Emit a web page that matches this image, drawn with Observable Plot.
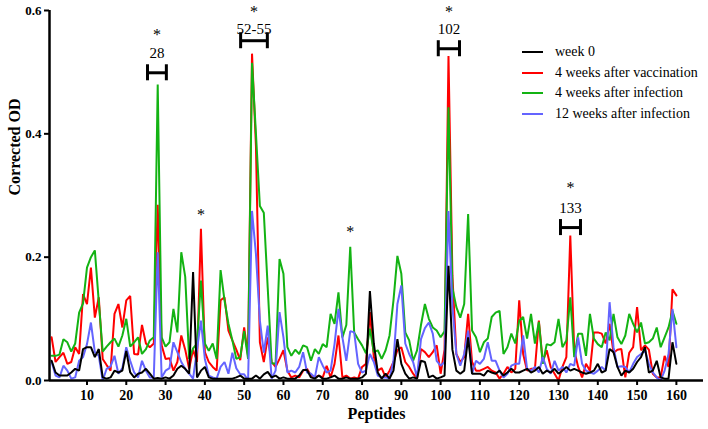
<!DOCTYPE html>
<html><head><meta charset="utf-8">
<script src="https://cdn.jsdelivr.net/npm/d3@7"></script>
<script src="https://cdn.jsdelivr.net/npm/@observablehq/plot@0.6"></script>
<style>
body{margin:0;background:#fff;}
#wrap{position:relative;width:708px;height:429px;}
#legend{position:absolute;left:522px;top:42px;font-family:"Liberation Serif","Times New Roman",serif;font-size:14px;color:#000;}
.row{display:flex;align-items:center;height:20.5px;white-space:nowrap;}
.sw{width:21px;height:2px;margin-right:12px;}
</style></head>
<body><div id="wrap"><div id="legend"></div></div>
<script>
const peptides = d3.range(1, 161);
const week0 = [0.032,0.013,0.008,0.008,0.008,0.013,0.019,0.016,0.051,0.054,
0.054,0.038,0.051,0.005,0.003,0.005,0.016,0.013,0.016,0.048,
0.013,0.005,0.011,0.013,0.019,0.011,0.003,0.004,0.003,0.005,
0.003,0.008,0.019,0.024,0.019,0.011,0.176,0.005,0.016,0.022,
0.005,0.003,0.003,0.003,0.003,0.003,0.003,0.005,0.008,0.003,
0.003,0.003,0.008,0.003,0.010,0.014,0.005,0.008,0.003,0.005,
0.003,0.003,0.003,0.008,0.017,0.017,0.005,0.003,0.008,0.003,
0.003,0.005,0.008,0.003,0.003,0.005,0.003,0.003,0.003,0.005,
0.011,0.145,0.060,0.013,0.003,0.011,0.003,0.016,0.067,0.027,
0.011,0.003,0.005,0.003,0.032,0.030,0.005,0.008,0.003,0.005,
0.008,0.186,0.050,0.016,0.011,0.016,0.070,0.011,0.011,0.011,
0.008,0.016,0.013,0.011,0.016,0.008,0.013,0.019,0.013,0.013,
0.016,0.019,0.013,0.016,0.022,0.011,0.016,0.013,0.019,0.011,
0.016,0.022,0.016,0.019,0.016,0.013,0.011,0.013,0.016,0.027,
0.013,0.016,0.051,0.046,0.022,0.008,0.016,0.013,0.019,0.030,
0.038,0.054,0.013,0.016,0.032,0.005,0.003,0.003,0.062,0.027];
const vacc4 = [0.070,0.030,0.038,0.045,0.027,0.030,0.054,0.043,0.140,0.124,
0.183,0.102,0.135,0.035,0.025,0.016,0.108,0.124,0.086,0.130,
0.137,0.043,0.042,0.090,0.060,0.054,0.060,0.285,0.057,0.035,
0.036,0.016,0.030,0.073,0.050,0.019,0.050,0.030,0.246,0.046,
0.030,0.022,0.016,0.130,0.135,0.081,0.065,0.050,0.033,0.086,
0.040,0.530,0.380,0.062,0.030,0.070,0.030,0.022,0.035,0.049,
0.016,0.005,0.008,0.005,0.016,0.019,0.008,0.005,0.008,0.005,
0.024,0.005,0.027,0.073,0.005,0.008,0.003,0.005,0.003,0.022,
0.027,0.111,0.038,0.016,0.020,0.005,0.016,0.030,0.049,0.054,
0.030,0.022,0.011,0.003,0.051,0.046,0.038,0.046,0.057,0.011,
0.050,0.526,0.170,0.043,0.030,0.038,0.108,0.030,0.016,0.016,
0.019,0.022,0.016,0.013,0.003,0.011,0.022,0.013,0.019,0.130,
0.043,0.016,0.019,0.019,0.097,0.030,0.049,0.022,0.011,0.000,
0.022,0.038,0.235,0.049,0.022,0.005,0.027,0.016,0.078,0.078,
0.076,0.060,0.092,0.045,0.050,0.051,0.005,0.045,0.054,0.119,
0.049,0.057,0.050,0.011,0.005,0.005,0.040,0.022,0.148,0.138];
const inf4 = [0.040,0.040,0.042,0.067,0.062,0.047,0.060,0.110,0.125,0.183,
0.200,0.211,0.128,0.047,0.055,0.062,0.068,0.055,0.073,0.100,
0.055,0.062,0.070,0.043,0.051,0.065,0.070,0.480,0.070,0.055,
0.062,0.116,0.078,0.208,0.168,0.035,0.052,0.060,0.162,0.060,
0.048,0.060,0.035,0.179,0.130,0.092,0.065,0.035,0.038,0.080,
0.035,0.515,0.400,0.283,0.272,0.150,0.028,0.027,0.197,0.173,
0.054,0.040,0.050,0.043,0.057,0.054,0.032,0.051,0.043,0.059,
0.054,0.108,0.092,0.143,0.070,0.090,0.217,0.078,0.067,0.057,
0.044,0.084,0.046,0.049,0.035,0.049,0.073,0.130,0.202,0.173,
0.078,0.065,0.032,0.049,0.090,0.124,0.100,0.086,0.081,0.070,
0.080,0.443,0.150,0.119,0.102,0.124,0.270,0.081,0.070,0.046,
0.062,0.068,0.103,0.110,0.113,0.043,0.054,0.076,0.060,0.097,
0.103,0.068,0.108,0.060,0.095,0.027,0.059,0.057,0.062,0.100,
0.054,0.065,0.135,0.038,0.076,0.076,0.040,0.108,0.068,0.059,
0.054,0.078,0.065,0.108,0.070,0.059,0.073,0.108,0.092,0.078,
0.094,0.060,0.062,0.068,0.086,0.054,0.070,0.086,0.113,0.092];
const inf12 = [0.030,0.008,0.005,0.024,0.016,0.003,0.005,0.032,0.038,0.059,
0.094,0.046,0.040,0.000,0.019,0.023,0.040,0.011,0.020,0.054,
0.032,0.013,0.005,0.032,0.016,0.005,0.005,0.208,0.005,0.016,
0.020,0.062,0.046,0.030,0.019,0.011,0.003,0.050,0.097,0.035,
0.008,0.005,0.003,0.022,0.030,0.011,0.045,0.020,0.010,0.010,
0.000,0.275,0.205,0.097,0.045,0.089,0.003,0.016,0.111,0.070,
0.013,0.016,0.013,0.022,0.046,0.013,0.011,0.005,0.038,0.024,
0.013,0.016,0.059,0.116,0.070,0.032,0.080,0.078,0.027,0.013,
0.016,0.043,0.030,0.008,0.005,0.005,0.003,0.032,0.124,0.154,
0.060,0.043,0.030,0.005,0.067,0.085,0.094,0.076,0.032,0.024,
0.030,0.275,0.120,0.043,0.024,0.043,0.081,0.011,0.032,0.027,
0.035,0.062,0.032,0.032,0.016,0.005,0.011,0.024,0.027,0.027,
0.073,0.019,0.016,0.022,0.013,0.038,0.019,0.011,0.032,0.016,
0.022,0.013,0.027,0.024,0.070,0.027,0.016,0.013,0.011,0.016,
0.022,0.016,0.127,0.054,0.022,0.023,0.022,0.013,0.027,0.038,
0.043,0.049,0.027,0.013,0.005,0.000,0.016,0.043,0.116,0.054];

const seriesNames = ["week 0", "4 weeks after vaccination", "4 weeks after infection", "12 weeks after infection"];
const seriesColors = ["#000000", "#ff0000", "#13b313", "#6464ff"];
const seriesValues = [week0, vacc4, inf4, inf12];
const drawOrder = [1, 2, 3, 0];
const xTicks = d3.range(10, 161, 10);
const yTicks = [0, 0.2, 0.4, 0.6];

// bracketed significant peptides: label, span (peptide units), levels (OD units)
const brackets = [
  {label: "28",    from: 25.4, to: 30.2,  bar: 0.499, text: 0.530, star: 0.562},
  {label: "52-55", from: 49.1, to: 55.9,  bar: 0.551, text: 0.570, star: 0.599},
  {label: "102",   from: 99.4, to: 104.8, bar: 0.538, text: 0.570, star: 0.599},
  {label: "133",   from: 130.5, to: 135.6, bar: 0.248, text: 0.279, star: 0.314}
];
const loneStars = [{peptide: 39, star: 0.270}, {peptide: 77, star: 0.243}];

const rows = [];
for (const i of drawOrder) {
  peptides.forEach((p, j) => rows.push({peptide: p, value: seriesValues[i][j], series: seriesNames[i]}));
}

const capH = 0.013;
const serif = "Liberation Serif, Times New Roman, serif";
const allStars = brackets.map(b => ({x: (b.from + b.to) / 2, y: b.star})).concat(loneStars.map(s => ({x: s.peptide, y: s.star})));

const chart = Plot.plot({
  width: 708, height: 429,
  marginLeft: 49, marginTop: 10, marginBottom: 49, marginRight: 5,
  style: {fontFamily: serif, background: "#fff", overflow: "visible"},
  x: {domain: [0.46, 166.9]},
  y: {domain: [0, 0.6]},
  color: {domain: seriesNames, range: seriesColors},
  marks: [
    Plot.line(rows, {x: "peptide", y: "value", z: "series", stroke: "series", strokeWidth: 2, strokeLinejoin: "miter"}),
    Plot.ruleY([0], {stroke: "#000", strokeWidth: 2.5}),
    Plot.ruleX([0.46], {y1: 0, y2: 0.6, stroke: "#000", strokeWidth: 2.5}),
    Plot.axisX({ticks: xTicks, tickSize: 5, tickPadding: 5, tickFormat: d => String(d), fontSize: 14, fontWeight: "bold", label: null, strokeWidth: 2}),
    Plot.axisY({ticks: yTicks, tickSize: 5, tickPadding: 3, tickFormat: d => d.toFixed(1), fontSize: 13, fontWeight: "bold", label: null, strokeWidth: 2}),
    Plot.text(["Peptides"], {frameAnchor: "bottom", dy: 38, fontSize: 16, fontWeight: "bold"}),
    Plot.text(["Corrected OD"], {frameAnchor: "left", dx: -35, rotate: -90, fontSize: 16, fontWeight: "bold"}),
    Plot.ruleY(brackets, {x1: "from", x2: "to", y: "bar", stroke: "#000", strokeWidth: 3}),
    Plot.ruleX(brackets, {x: "from", y1: b => b.bar - capH, y2: b => b.bar + capH, stroke: "#000", strokeWidth: 3}),
    Plot.ruleX(brackets, {x: "to", y1: b => b.bar - capH, y2: b => b.bar + capH, stroke: "#000", strokeWidth: 3}),
    Plot.text(brackets, {x: b => (b.from + b.to) / 2, y: "text", text: "label", fontSize: 15}),
    Plot.text(allStars, {x: "x", y: "y", text: () => "*", fontSize: 16, dy: 1})
  ]
});
document.getElementById("wrap").prepend(chart);

const legend = document.getElementById("legend");
seriesNames.forEach((name, i) => {
  const row = document.createElement("div");
  row.className = "row";
  const sw = document.createElement("div");
  sw.className = "sw";
  sw.style.background = seriesColors[i];
  const t = document.createElement("span");
  t.textContent = name;
  row.appendChild(sw); row.appendChild(t);
  legend.appendChild(row);
});
</script>
</body></html>
